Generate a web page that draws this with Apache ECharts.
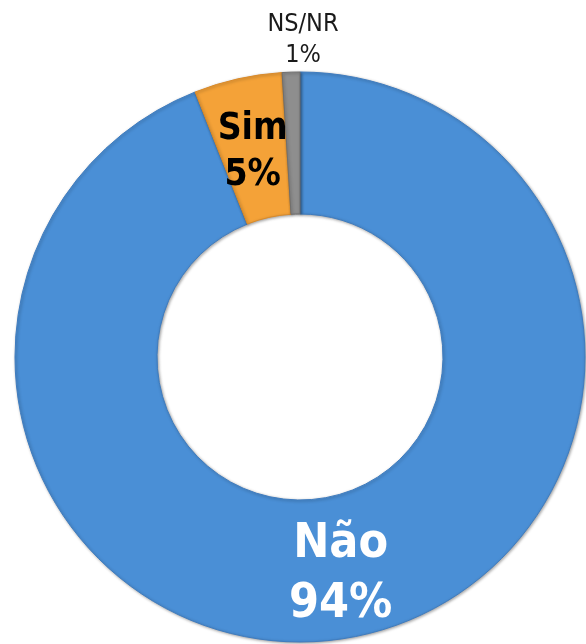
<!DOCTYPE html>
<html>
<head>
<meta charset="utf-8">
<script src="https://cdn.jsdelivr.net/npm/echarts@6/dist/echarts.min.js"></script>
<style>
  html, body { margin: 0; padding: 0; background: #ffffff; }
  #chart { width: 586px; height: 644px; }
</style>
</head>
<body>
<div id="chart"></div>
<script>
// Answer categories and their shares (%)
const categories = ['Não', 'Sim', 'NS/NR'];
const shares = [94, 5, 1];
const sliceColors = ['#4a8fd6', '#f4a238', '#8e8e8e'];
const sliceBorders = ['#3f7cbf', '#d98a2a', '#6f6f6f'];

const FONT = '"DejaVu Sans Condensed", "DejaVu Sans", sans-serif';

const labelStyles = [
  { color: '#ffffff', fontSize: 48, fontWeight: 'bold', lineHeight: 60 },
  { color: '#000000', fontSize: 37, fontWeight: 'bold', lineHeight: 46 },
  { color: '#1a1a1a', fontSize: 25, fontWeight: 'normal', lineHeight: 31 }
];

const data = categories.map((name, i) => ({
  name: name,
  value: shares[i],
  itemStyle: { color: sliceColors[i], borderColor: sliceBorders[i] },
  label: Object.assign({ show: true, position: 'inside', fontFamily: FONT }, labelStyles[i])
}));

const chart = echarts.init(document.getElementById('chart'), null, { renderer: 'canvas' });
chart.setOption({
  animation: false,
  backgroundColor: '#ffffff',
  series: [{
    type: 'pie',
    center: [300, 357],
    radius: [143, 285],
    startAngle: 90,
    clockwise: true,
    avoidLabelOverlap: false,
    itemStyle: {
      borderWidth: 1,
      shadowBlur: 3,
      shadowColor: 'rgba(0,0,0,0.35)',
      shadowOffsetX: 1,
      shadowOffsetY: 1
    },
    label: {
      formatter: p => p.name + '\n' + p.value + '%'
    },
    labelLine: { show: false },
    labelLayout: function (p) {
      // the small NS/NR slice gets its label above the ring
      if (p.dataIndex === 2) {
        return { x: 303, y: 40, align: 'center', verticalAlign: 'middle' };
      }
      if (p.dataIndex === 1) {
        return { dy: 7 };
      }
      return { dy: 4 };
    },
    data: data
  }]
});
</script>
</body>
</html>
